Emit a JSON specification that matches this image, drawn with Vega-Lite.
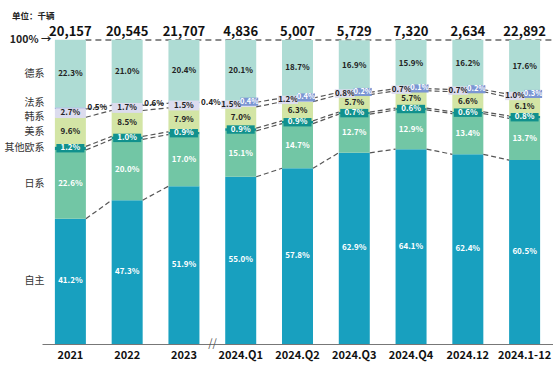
{
  "$schema": "https://vega.github.io/schema/vega-lite/v6.json",
  "width": 511,
  "height": 304,
  "autosize": {"type": "none"},
  "padding": {"left": 42, "top": 40, "right": 0, "bottom": 22},
  "background": "white",
  "config": {"view": {"stroke": null}, "font": "Noto Sans CJK SC"},
  "title": {"text": "单位：千辆", "anchor": "start", "frame": "group", "dx": -30, "offset": 6, "fontSize": 8.5, "fontWeight": "bold", "color": "#222", "font": "Noto Sans CJK SC"},
  "datasets": {
    "shares": [
      {"period": "2021", "idx": 0, "brand": "自主", "order": 1, "share": 0.412},
      {"period": "2021", "idx": 0, "brand": "日系", "order": 2, "share": 0.226},
      {"period": "2021", "idx": 0, "brand": "其他欧系", "order": 3, "share": 0.012},
      {"period": "2021", "idx": 0, "brand": "美系", "order": 4, "share": 0.096},
      {"period": "2021", "idx": 0, "brand": "韩系", "order": 5, "share": 0.027},
      {"period": "2021", "idx": 0, "brand": "法系", "order": 6, "share": 0.005},
      {"period": "2021", "idx": 0, "brand": "德系", "order": 7, "share": 0.223},
      {"period": "2022", "idx": 1, "brand": "自主", "order": 1, "share": 0.473},
      {"period": "2022", "idx": 1, "brand": "日系", "order": 2, "share": 0.200},
      {"period": "2022", "idx": 1, "brand": "其他欧系", "order": 3, "share": 0.010},
      {"period": "2022", "idx": 1, "brand": "美系", "order": 4, "share": 0.085},
      {"period": "2022", "idx": 1, "brand": "韩系", "order": 5, "share": 0.017},
      {"period": "2022", "idx": 1, "brand": "法系", "order": 6, "share": 0.006},
      {"period": "2022", "idx": 1, "brand": "德系", "order": 7, "share": 0.210},
      {"period": "2023", "idx": 2, "brand": "自主", "order": 1, "share": 0.519},
      {"period": "2023", "idx": 2, "brand": "日系", "order": 2, "share": 0.170},
      {"period": "2023", "idx": 2, "brand": "其他欧系", "order": 3, "share": 0.009},
      {"period": "2023", "idx": 2, "brand": "美系", "order": 4, "share": 0.079},
      {"period": "2023", "idx": 2, "brand": "韩系", "order": 5, "share": 0.015},
      {"period": "2023", "idx": 2, "brand": "法系", "order": 6, "share": 0.004},
      {"period": "2023", "idx": 2, "brand": "德系", "order": 7, "share": 0.204},
      {"period": "2024.Q1", "idx": 3, "brand": "自主", "order": 1, "share": 0.550},
      {"period": "2024.Q1", "idx": 3, "brand": "日系", "order": 2, "share": 0.151},
      {"period": "2024.Q1", "idx": 3, "brand": "其他欧系", "order": 3, "share": 0.009},
      {"period": "2024.Q1", "idx": 3, "brand": "美系", "order": 4, "share": 0.070},
      {"period": "2024.Q1", "idx": 3, "brand": "韩系", "order": 5, "share": 0.015},
      {"period": "2024.Q1", "idx": 3, "brand": "法系", "order": 6, "share": 0.004},
      {"period": "2024.Q1", "idx": 3, "brand": "德系", "order": 7, "share": 0.201},
      {"period": "2024.Q2", "idx": 4, "brand": "自主", "order": 1, "share": 0.578},
      {"period": "2024.Q2", "idx": 4, "brand": "日系", "order": 2, "share": 0.147},
      {"period": "2024.Q2", "idx": 4, "brand": "其他欧系", "order": 3, "share": 0.009},
      {"period": "2024.Q2", "idx": 4, "brand": "美系", "order": 4, "share": 0.063},
      {"period": "2024.Q2", "idx": 4, "brand": "韩系", "order": 5, "share": 0.012},
      {"period": "2024.Q2", "idx": 4, "brand": "法系", "order": 6, "share": 0.004},
      {"period": "2024.Q2", "idx": 4, "brand": "德系", "order": 7, "share": 0.187},
      {"period": "2024.Q3", "idx": 5, "brand": "自主", "order": 1, "share": 0.629},
      {"period": "2024.Q3", "idx": 5, "brand": "日系", "order": 2, "share": 0.127},
      {"period": "2024.Q3", "idx": 5, "brand": "其他欧系", "order": 3, "share": 0.007},
      {"period": "2024.Q3", "idx": 5, "brand": "美系", "order": 4, "share": 0.057},
      {"period": "2024.Q3", "idx": 5, "brand": "韩系", "order": 5, "share": 0.008},
      {"period": "2024.Q3", "idx": 5, "brand": "法系", "order": 6, "share": 0.002},
      {"period": "2024.Q3", "idx": 5, "brand": "德系", "order": 7, "share": 0.169},
      {"period": "2024.Q4", "idx": 6, "brand": "自主", "order": 1, "share": 0.641},
      {"period": "2024.Q4", "idx": 6, "brand": "日系", "order": 2, "share": 0.129},
      {"period": "2024.Q4", "idx": 6, "brand": "其他欧系", "order": 3, "share": 0.006},
      {"period": "2024.Q4", "idx": 6, "brand": "美系", "order": 4, "share": 0.057},
      {"period": "2024.Q4", "idx": 6, "brand": "韩系", "order": 5, "share": 0.007},
      {"period": "2024.Q4", "idx": 6, "brand": "法系", "order": 6, "share": 0.001},
      {"period": "2024.Q4", "idx": 6, "brand": "德系", "order": 7, "share": 0.159},
      {"period": "2024.12", "idx": 7, "brand": "自主", "order": 1, "share": 0.624},
      {"period": "2024.12", "idx": 7, "brand": "日系", "order": 2, "share": 0.134},
      {"period": "2024.12", "idx": 7, "brand": "其他欧系", "order": 3, "share": 0.006},
      {"period": "2024.12", "idx": 7, "brand": "美系", "order": 4, "share": 0.066},
      {"period": "2024.12", "idx": 7, "brand": "韩系", "order": 5, "share": 0.007},
      {"period": "2024.12", "idx": 7, "brand": "法系", "order": 6, "share": 0.002},
      {"period": "2024.12", "idx": 7, "brand": "德系", "order": 7, "share": 0.162},
      {"period": "2024.1-12", "idx": 8, "brand": "自主", "order": 1, "share": 0.605},
      {"period": "2024.1-12", "idx": 8, "brand": "日系", "order": 2, "share": 0.137},
      {"period": "2024.1-12", "idx": 8, "brand": "其他欧系", "order": 3, "share": 0.008},
      {"period": "2024.1-12", "idx": 8, "brand": "美系", "order": 4, "share": 0.061},
      {"period": "2024.1-12", "idx": 8, "brand": "韩系", "order": 5, "share": 0.010},
      {"period": "2024.1-12", "idx": 8, "brand": "法系", "order": 6, "share": 0.003},
      {"period": "2024.1-12", "idx": 8, "brand": "德系", "order": 7, "share": 0.176}
    ],
    "totals": [
      {"period": "2021", "total": 20157},
      {"period": "2022", "total": 20545},
      {"period": "2023", "total": 21707},
      {"period": "2024.Q1", "total": 4836},
      {"period": "2024.Q2", "total": 5007},
      {"period": "2024.Q3", "total": 5729},
      {"period": "2024.Q4", "total": 7320},
      {"period": "2024.12", "total": 2634},
      {"period": "2024.1-12", "total": 22892}
    ]
  },
  "encoding": {
    "x": {
      "field": "period",
      "type": "nominal",
      "sort": ["2021", "2022", "2023", "2024.Q1", "2024.Q2", "2024.Q3", "2024.Q4", "2024.12", "2024.1-12"],
      "scale": {"paddingInner": 0.454, "paddingOuter": 0.227},
      "axis": {"title": null, "labelAngle": 0, "ticks": false, "domainColor": "#777", "domainWidth": 1, "labelFontSize": 11, "labelFontWeight": "bold", "labelColor": "#111", "labelPadding": 5, "labelFont": "Noto Sans CJK SC"}
    }
  },
  "layer": [
    {
      "data": {"values": [{"k": 1}]},
      "mark": {"type": "rule", "strokeDash": [6, 4], "color": "#666", "strokeWidth": 1.3, "xOffset": 15, "x2Offset": 28},
      "encoding": {
        "x": {"datum": "2021"},
        "x2": {"datum": "2024.1-12"},
        "y": {"datum": 1, "type": "quantitative", "scale": {"domain": [0, 1], "nice": false}, "axis": null}
      }
    },
    {
      "data": {"name": "shares"},
      "transform": [
        {"stack": "share", "groupby": ["period"], "sort": [{"field": "order", "order": "ascending"}], "as": ["y0", "y1"]},
        {"calculate": "(datum.y0 + datum.y1) / 2", "as": "ymid"}
      ],
      "layer": [
        {
          "mark": {"type": "bar"},
          "encoding": {
            "y": {"field": "y0", "type": "quantitative", "axis": null},
            "y2": {"field": "y1"},
            "color": {
              "field": "brand",
              "type": "nominal",
              "scale": {"domain": ["自主", "日系", "其他欧系", "美系", "韩系", "法系", "德系"], "range": ["#18a0bf", "#72c6a5", "#11918d", "#d3e5a5", "#dcdcee", "#6f8ed3", "#aedcd4"]},
              "legend": null
            }
          }
        },
        {
          "transform": [
            {"window": [{"op": "lead", "field": "period", "as": "nextp"}, {"op": "lead", "field": "y1", "as": "ny1"}], "groupby": ["brand"], "sort": [{"field": "idx", "order": "ascending"}]},
            {"filter": "datum.nextp != null && datum.period != '2023' && indexof(['自主','日系','其他欧系','美系','韩系'], datum.brand) >= 0"}
          ],
          "mark": {"type": "rule", "strokeDash": [5, 3], "color": "#555", "strokeWidth": 1.2, "xOffset": 15.5, "x2Offset": -15.5},
          "encoding": {
            "x2": {"field": "nextp"},
            "y": {"field": "y1", "type": "quantitative"},
            "y2": {"field": "ny1"}
          }
        },
        {
          "transform": [{"filter": "datum.brand == '韩系' && datum.idx < 3"}],
          "mark": {"type": "point", "shape": "M-1,-0.33H1V0.33H-1Z", "size": 900, "filled": true, "opacity": 1, "strokeWidth": 0, "fill": "#dcdcee"},
          "encoding": {"y": {"field": "ymid", "type": "quantitative"}}
        },
        {
          "transform": [{"filter": "indexof(['自主','日系','美系','德系'], datum.brand) >= 0 || (datum.brand == '韩系' && datum.idx < 3)"}],
          "mark": {"type": "text", "fontSize": 8, "fontWeight": "bold", "baseline": "middle"},
          "encoding": {
            "y": {"field": "ymid", "type": "quantitative"},
            "text": {"field": "share", "type": "quantitative", "format": ".1%"},
            "color": {"condition": {"test": "datum.brand == '自主' || datum.brand == '日系'", "value": "#ffffff"}, "value": "#222222"}
          }
        },
        {
          "transform": [{"filter": "datum.brand == '其他欧系'"}],
          "mark": {"type": "point", "shape": "M-1,-0.3H1V0.3H-1Z", "size": 784, "filled": true, "opacity": 1, "strokeWidth": 0, "fill": "#11918d"},
          "encoding": {"y": {"field": "ymid", "type": "quantitative"}}
        },
        {
          "transform": [{"filter": "datum.brand == '其他欧系'"}],
          "mark": {"type": "text", "fontSize": 8, "fontWeight": "bold", "baseline": "middle", "color": "#ffffff"},
          "encoding": {
            "y": {"field": "ymid", "type": "quantitative"},
            "text": {"field": "share", "type": "quantitative", "format": ".1%"}
          }
        },
        {
          "transform": [{"filter": "datum.brand == '韩系' && datum.idx >= 3"}],
          "mark": {"type": "point", "shape": "M-1,-0.42H1V0.42H-1Z", "size": 400, "filled": true, "opacity": 1, "strokeWidth": 0, "fill": "#dcdcee", "xOffset": -9.5},
          "encoding": {"y": {"field": "ymid", "type": "quantitative"}}
        },
        {
          "transform": [{"filter": "datum.brand == '韩系' && datum.idx >= 3"}],
          "mark": {"type": "text", "fontSize": 8, "fontWeight": "bold", "baseline": "middle", "color": "#222222", "dx": -9.5},
          "encoding": {
            "y": {"field": "ymid", "type": "quantitative"},
            "text": {"field": "share", "type": "quantitative", "format": ".1%"}
          }
        },
        {
          "transform": [{"filter": "datum.brand == '法系' && datum.idx >= 3"}],
          "mark": {"type": "point", "shape": "M-1,-0.45H1V0.45H-1Z", "size": 324, "filled": true, "opacity": 1, "strokeWidth": 0, "fill": "#7b96d3", "xOffset": 8.5},
          "encoding": {"y": {"field": "ymid", "type": "quantitative"}}
        },
        {
          "transform": [{"filter": "datum.brand == '法系' && datum.idx >= 3"}],
          "mark": {"type": "text", "fontSize": 7.5, "fontWeight": "bold", "baseline": "middle", "color": "#ffffff", "dx": 8.5},
          "encoding": {
            "y": {"field": "ymid", "type": "quantitative"},
            "text": {"field": "share", "type": "quantitative", "format": ".1%"}
          }
        },
        {
          "transform": [{"filter": "datum.brand == '法系' && datum.idx < 3"}],
          "mark": {"type": "text", "fontSize": 8, "fontWeight": "bold", "baseline": "middle", "color": "#222222", "dx": 27},
          "encoding": {
            "y": {"field": "ymid", "type": "quantitative"},
            "text": {"field": "share", "type": "quantitative", "format": ".1%"}
          }
        },
        {
          "transform": [{"filter": "datum.idx == 0 && datum.brand != '法系' && datum.brand != '韩系'"}],
          "mark": {"type": "text", "fontSize": 10, "align": "right", "baseline": "middle", "color": "#333", "dx": -26},
          "encoding": {
            "y": {"field": "ymid", "type": "quantitative"},
            "text": {"field": "brand"}
          }
        },
        {
          "transform": [{"filter": "datum.idx == 0 && datum.brand == '法系'"}],
          "mark": {"type": "text", "fontSize": 10, "align": "right", "baseline": "middle", "color": "#333", "dx": -26, "dy": -5},
          "encoding": {
            "y": {"field": "ymid", "type": "quantitative"},
            "text": {"field": "brand"}
          }
        },
        {
          "transform": [{"filter": "datum.idx == 0 && datum.brand == '韩系'"}],
          "mark": {"type": "text", "fontSize": 10, "align": "right", "baseline": "middle", "color": "#333", "dx": -26, "dy": 4},
          "encoding": {
            "y": {"field": "ymid", "type": "quantitative"},
            "text": {"field": "brand"}
          }
        }
      ]
    },
    {
      "data": {"name": "totals"},
      "mark": {"type": "text", "fontSize": 13, "fontWeight": "bold", "baseline": "alphabetic", "color": "#111", "dy": -4},
      "encoding": {
        "y": {"datum": 1, "type": "quantitative"},
        "text": {"field": "total", "type": "quantitative", "format": ","}
      }
    },
    {
      "data": {"values": [{"label": "100% →"}]},
      "mark": {"type": "text", "fontSize": 10.5, "fontWeight": "bold", "align": "right", "baseline": "middle", "color": "#222", "dx": -19},
      "encoding": {
        "x": {"datum": "2021"},
        "y": {"datum": 1, "type": "quantitative"},
        "text": {"field": "label"}
      }
    },
    {
      "data": {"values": [{"label": "//"}]},
      "mark": {"type": "text", "fontSize": 11, "align": "center", "baseline": "middle", "color": "#555", "dx": 28.5},
      "encoding": {
        "x": {"datum": "2023"},
        "y": {"datum": 0, "type": "quantitative"},
        "text": {"field": "label"}
      }
    }
  ]
}
